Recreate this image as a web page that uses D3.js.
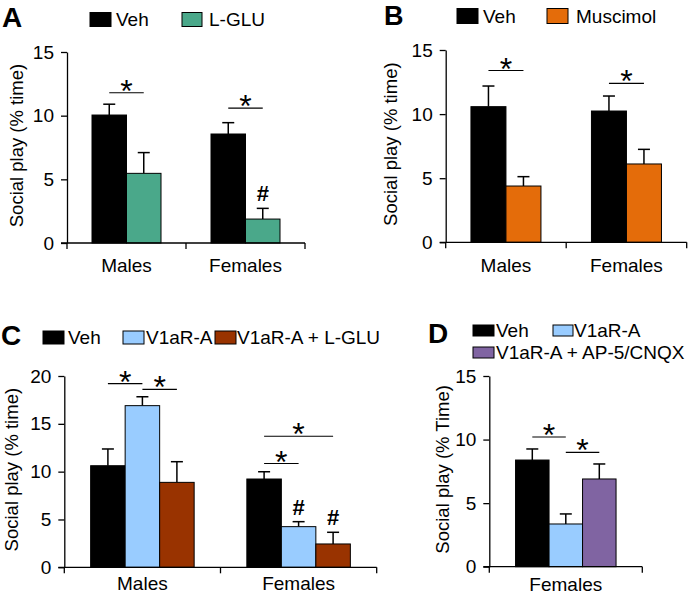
<!DOCTYPE html>
<html>
<head>
<meta charset="utf-8">
<script src="https://cdn.jsdelivr.net/npm/d3@7"></script>
<style>
body{margin:0;background:#fff;}
svg text{font-family:Arial,"Liberation Sans",Helvetica,sans-serif;}
</style>
</head>
<body>
<svg id="chart" width="689" height="598"></svg>
<script>
// ---------- DATA ----------
const groupsAB = ["Males", "Females"];
const groupsC = ["Males", "Females"];
const groupsD = ["Females"];

const seriesA = ["Veh", "L-GLU"];
const meansA = [[10.05, 5.47], [8.56, 1.88]];
const errsA  = [[0.85, 1.63], [0.89, 0.84]];

const seriesB = ["Veh", "Muscimol"];
const meansB = [[10.58, 4.39], [10.24, 6.11]];
const errsB  = [[1.61, 0.73], [1.17, 1.14]];

const seriesC = ["Veh", "V1aR-A", "V1aR-A + L-GLU"];
const meansC = [[10.62, 16.9, 8.88], [9.23, 4.25, 2.44]];
const errsC  = [[1.75, 0.93, 2.16], [0.76, 0.52, 1.22]];

const seriesD = ["Veh", "V1aR-A", "V1aR-A + AP-5/CNQX"];
const meansD = [[8.39, 3.36, 6.9]];
const errsD  = [[0.87, 0.79, 1.18]];

const yTicks15 = [0, 5, 10, 15];
const yTicks20 = [0, 5, 10, 15, 20];

const colorsA = ["#000000", "#4aa88a"];
const colorsB = ["#000000", "#e46c0a"];
const colorsC = ["#000000", "#99ccff", "#993300"];
const colorsD = ["#000000", "#99ccff", "#8064a2"];

// significance: [group index, series from, series to, y value of line]
const sigA = [[0, 0, 1, 11.8], [1, 0, 1, 10.6]];
const sigB = [[0, 0, 1, 13.4], [1, 0, 1, 12.4]];
const sigC = [[0, 0, 1, 19.2], [0, 1, 2, 18.6], [1, 0, 1, 10.85], [1, 0, 2, 13.7]];
const sigD = [[0, 0, 1, 10.2], [0, 1, 2, 9.0]];
// hash marks: [group index, series index]
const hashA = [[1, 1]];
const hashC = [[1, 1], [1, 2]];

// ---------- DRAW ----------
const svg = d3.select("#chart");
const FS = 19;
const FSY = 18.5;

function panel(cfg) {
  const g = svg.append("g");
  const y = d3.scaleLinear().domain([0, cfg.ymax]).range([cfg.yb, cfg.yt]);
  const x0 = d3.scaleBand().domain(cfg.groups).range([cfg.xl, cfg.xr]).padding(0);
  const n = cfg.series.length;
  const x1 = d3.scaleBand().domain(d3.range(n)).range([0, n * cfg.bw]).padding(0);
  const bx = (gi, si) => x0(cfg.groups[gi]) + x0.bandwidth() / 2 - n * cfg.bw / 2 + x1(si);

  // bars
  cfg.groups.forEach((grp, gi) => {
    cfg.series.forEach((s, si) => {
      const v = cfg.means[gi][si], e = cfg.errs[gi][si];
      const cx = bx(gi, si) + cfg.bw / 2;
      g.append("line").attr("x1", cx).attr("x2", cx)
        .attr("y1", y(v)).attr("y2", y(v + e))
        .attr("stroke", "#000").attr("stroke-width", 1.5);
      g.append("line").attr("x1", cx - 6).attr("x2", cx + 6)
        .attr("y1", y(v + e)).attr("y2", y(v + e))
        .attr("stroke", "#000").attr("stroke-width", 1.5);
      g.append("rect").attr("x", bx(gi, si)).attr("y", y(v))
        .attr("width", x1.bandwidth()).attr("height", y(0) - y(v))
        .attr("fill", cfg.colors[si]).attr("stroke", "#000").attr("stroke-width", 1);
    });
  });

  // y axis
  const ya = g.append("g").attr("transform", `translate(${cfg.xl},0)`)
    .call(d3.axisLeft(y).tickValues(cfg.yticks).tickSize(6).tickPadding(7).tickSizeOuter(0));
  ya.select(".domain").attr("stroke-width", 1.3);
  ya.selectAll(".tick line").attr("stroke-width", 1.3);
  ya.selectAll("text").attr("font-size", FS).attr("fill", "#000")
    .style("font-family", "Arial, 'Liberation Sans', sans-serif");

  // x axis line + ticks at group boundaries
  g.append("line").attr("x1", cfg.xl - 6).attr("x2", cfg.xr).attr("y1", y(0)).attr("y2", y(0))
    .attr("stroke", "#000").attr("stroke-width", 1.3);
  const bounds = cfg.groups.map(d => x0(d)).concat([cfg.xr]);
  bounds.forEach(b => {
    if (b === cfg.xl) return;
    g.append("line").attr("x1", b).attr("x2", b).attr("y1", y(0)).attr("y2", y(0) + 6)
      .attr("stroke", "#000").attr("stroke-width", 1.3);
  });
  g.append("line").attr("x1", cfg.xl).attr("x2", cfg.xl).attr("y1", y(0)).attr("y2", y(0) + 6)
    .attr("stroke", "#000").attr("stroke-width", 1.3);

  // x labels
  cfg.groups.forEach(grp => {
    g.append("text").attr("x", x0(grp) + x0.bandwidth() / 2).attr("y", cfg.xlabY)
      .attr("text-anchor", "middle").attr("font-size", FS).text(grp);
  });

  // y label
  g.append("text").attr("transform", `translate(${cfg.ylabX},${(cfg.yt + cfg.yb) / 2 - 2}) rotate(-90)`)
    .attr("text-anchor", "middle").attr("dominant-baseline", "central")
    .attr("font-size", FSY).text(cfg.ylabel);

  // significance
  cfg.sig.forEach(([gi, a, b, v]) => {
    const xa = bx(gi, a) + cfg.bw / 2, xb = bx(gi, b) + cfg.bw / 2;
    g.append("line").attr("x1", xa).attr("x2", xb).attr("y1", y(v)).attr("y2", y(v))
      .attr("stroke", "#000").attr("stroke-width", 1.2);
    g.append("text").attr("x", (xa + xb) / 2).attr("y", y(v) + 9)
      .attr("text-anchor", "middle").attr("font-size", 32).text("*");
  });
  (cfg.hash || []).forEach(([gi, si]) => {
    const v = cfg.means[gi][si] + cfg.errs[gi][si];
    g.append("text").attr("x", bx(gi, si) + cfg.bw / 2).attr("y", y(v) - 7)
      .attr("text-anchor", "middle").attr("font-size", 22).attr("font-weight", "bold").text("#");
  });

  // panel letter
  g.append("text").attr("x", cfg.letterX).attr("y", cfg.letterY)
    .attr("font-size", cfg.letterFS || 28).attr("font-weight", "bold").text(cfg.letter);

  // legend
  cfg.legend.forEach((L, i) => {
    g.append("rect").attr("x", L.x).attr("y", L.y).attr("width", L.w).attr("height", L.h)
      .attr("fill", cfg.colors[i]).attr("stroke", "#000").attr("stroke-width", 1);
    g.append("text").attr("x", L.tx).attr("y", L.y + L.h / 2).attr("dominant-baseline", "central")
      .attr("font-size", FS).text(cfg.series[i]);
  });
}

panel({
  groups: groupsAB, series: seriesA, means: meansA, errs: errsA, colors: colorsA,
  ymax: 15, yticks: yTicks15, yb: 243, yt: 52, xl: 67, xr: 305, bw: 34.5,
  xlabY: 272, ylabX: 16, ylabel: "Social play (% time)",
  sig: sigA, hash: hashA, letter: "A", letterX: 2, letterY: 27,
  legend: [{x: 90, y: 12.5, w: 21, h: 14, tx: 116}, {x: 182, y: 12.5, w: 20, h: 14, tx: 209}]
});
panel({
  groups: groupsAB, series: seriesB, means: meansB, errs: errsB, colors: colorsB,
  ymax: 15, yticks: yTicks15, yb: 242.3, yt: 50, xl: 445.7, xr: 686.7, bw: 35,
  xlabY: 272, ylabX: 390, ylabel: "Social play (% time)",
  sig: sigB, letter: "B", letterX: 384, letterY: 25, letterFS: 27,
  legend: [{x: 457, y: 8.5, w: 21, h: 15, tx: 483}, {x: 547, y: 8.5, w: 21, h: 15, tx: 576}]
});
panel({
  groups: groupsC, series: seriesC, means: meansC, errs: errsC, colors: colorsC,
  ymax: 20, yticks: yTicks20, yb: 567.3, yt: 376, xl: 64.3, xr: 376.7, bw: 34.5,
  xlabY: 590, ylabX: 11, ylabel: "Social play (% time)",
  sig: sigC, hash: hashC, letter: "C", letterX: 1, letterY: 345,
  legend: [{x: 43, y: 331, w: 21, h: 13, tx: 68},
           {x: 123, y: 331, w: 21, h: 13, tx: 146},
           {x: 215, y: 331, w: 21, h: 13, tx: 237}]
});
panel({
  groups: groupsD, series: seriesD, means: meansD, errs: errsD, colors: colorsD,
  ymax: 15, yticks: yTicks15, yb: 566.7, yt: 376, xl: 489.3, xr: 642.3, bw: 33.5,
  xlabY: 591, ylabX: 442, ylabel: "Social play (% Time)",
  sig: sigD, letter: "D", letterX: 428, letterY: 343,
  legend: [{x: 473, y: 325, w: 21, h: 11, tx: 496},
           {x: 553, y: 325, w: 20, h: 11, tx: 574},
           {x: 473, y: 347, w: 21, h: 11, tx: 496}]
});
</script>
</body>
</html>
